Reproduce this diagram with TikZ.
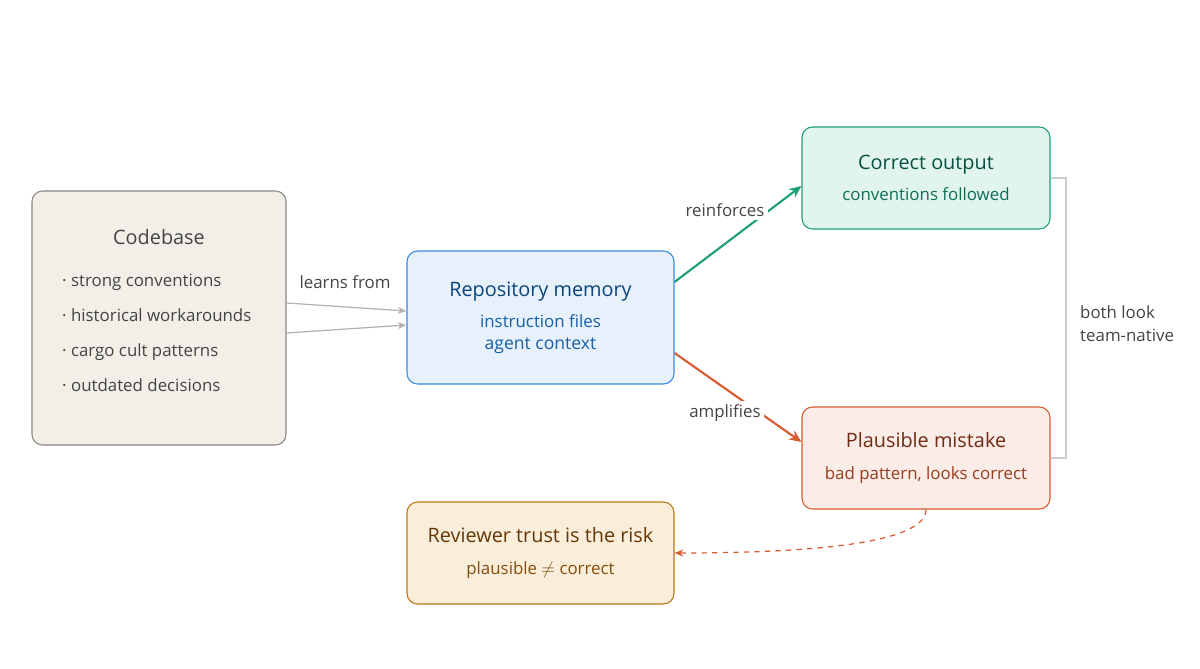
\documentclass[tikz,border=0pt]{standalone}
\usepackage{fontspec}
\setmainfont{Open Sans}
\usetikzlibrary{arrows.meta}
\definecolor{baseFill}{HTML}{F1EFE8}\definecolor{baseLine}{HTML}{8A8780}\definecolor{baseText}{HTML}{444441}
\definecolor{memFill}{HTML}{E6F1FB}\definecolor{memLine}{HTML}{378ADD}\definecolor{memText}{HTML}{0C447C}\definecolor{memSub}{HTML}{185FA5}
\definecolor{okFill}{HTML}{E1F5EE}\definecolor{okLine}{HTML}{1D9E75}\definecolor{okText}{HTML}{085041}\definecolor{okSub}{HTML}{0F6E56}
\definecolor{badFill}{HTML}{FAECE7}\definecolor{badLine}{HTML}{D85A30}\definecolor{badText}{HTML}{712B13}\definecolor{badSub}{HTML}{993C1D}
\definecolor{revFill}{HTML}{FAEEDA}\definecolor{revLine}{HTML}{BA7517}\definecolor{revText}{HTML}{633806}\definecolor{revSub}{HTML}{854F0B}
\begin{document}
\begin{tikzpicture}[x=0.02cm,y=-0.02cm,>={Stealth[length=7pt,width=6pt]},
  box/.style={draw,rounded corners=6pt,line width=0.6pt,align=center,inner sep=0pt},
  lbl/.style={font=\fontsize{9.6}{12}\selectfont,text=baseText}]
  \useasboundingbox (0,0) rectangle (1200,669);

  \node[box,fill=baseFill,draw=baseLine,minimum width=254*0.02cm,minimum height=254*0.02cm] (code) at (159,318) {};
  \node[font=\fontsize{11.3}{14}\selectfont,text=baseText] at (159,237) {Codebase};
  \node[lbl,align=left,anchor=west,font=\fontsize{9.6}{19.8}\selectfont] at (56,333)
    {· strong conventions\\· historical workarounds\\· cargo cult patterns\\· outdated decisions};

  \node[box,fill=memFill,draw=memLine,minimum width=267*0.02cm,minimum height=133*0.02cm] (mem) at (540.5,317.5)
    {\fontsize{11.3}{14}\selectfont\color{memText}Repository memory\\[6pt]
     \fontsize{9.6}{16.5}\selectfont\color{memSub}instruction files\\\color{memSub}agent context};

  \node[box,fill=okFill,draw=okLine,minimum width=248*0.02cm,minimum height=102*0.02cm] (ok) at (926,178)
    {\fontsize{11.3}{14}\selectfont\color{okText}Correct output\\[6pt]
     \fontsize{9.6}{12}\selectfont\color{okSub}conventions followed};

  \node[box,fill=badFill,draw=badLine,minimum width=248*0.02cm,minimum height=102*0.02cm] (bad) at (926,458)
    {\fontsize{11.3}{14}\selectfont\color{badText}Plausible mistake\\[6pt]
     \fontsize{9.6}{12}\selectfont\color{badSub}bad pattern, looks correct};

  \node[box,fill=revFill,draw=revLine,minimum width=267*0.02cm,minimum height=102*0.02cm] (rev) at (540.5,553)
    {\fontsize{11.3}{14}\selectfont\color{revText}Reviewer trust is the risk\\[6pt]
     \fontsize{9.6}{12}\selectfont\color{revSub}plausible $\neq$ correct};

  % learns from
  \draw[->,gray!60,line width=0.7pt,>={Stealth[length=5pt,width=4pt]}] (code.east|-0,303) -- (mem.west|-0,311);
  \draw[->,gray!60,line width=0.7pt,>={Stealth[length=5pt,width=4pt]}] (code.east|-0,333) -- (mem.west|-0,325);
  \node[lbl] at (345,282) {learns from};

  % reinforces / amplifies
  \draw[->,okLine,line width=1.2pt] (mem.east|-0,282) -- (ok.west|-0,186);
  \node[lbl,fill=white,inner sep=2pt] at (725,210) {reinforces};
  \draw[->,badLine,line width=1.2pt] (mem.east|-0,353) -- (bad.west|-0,442);
  \node[lbl,fill=white,inner sep=2pt] at (725,413) {amplifies};

  % trust risk
  \draw[->,badLine,dashed,line width=0.7pt,>={Stealth[length=5pt,width=4pt]}]
    (bad.south) .. controls (926,545) and (800,553) .. (rev.east);

  % bracket
  \draw[gray!40,line width=0.7pt] (ok.east) -- (1066,178) -- (1066,458) -- (bad.east);
  \node[lbl,align=left,anchor=west,font=\fontsize{9.6}{13.2}\selectfont] at (1074,324) {both look\\team-native};
\end{tikzpicture}
\end{document}
